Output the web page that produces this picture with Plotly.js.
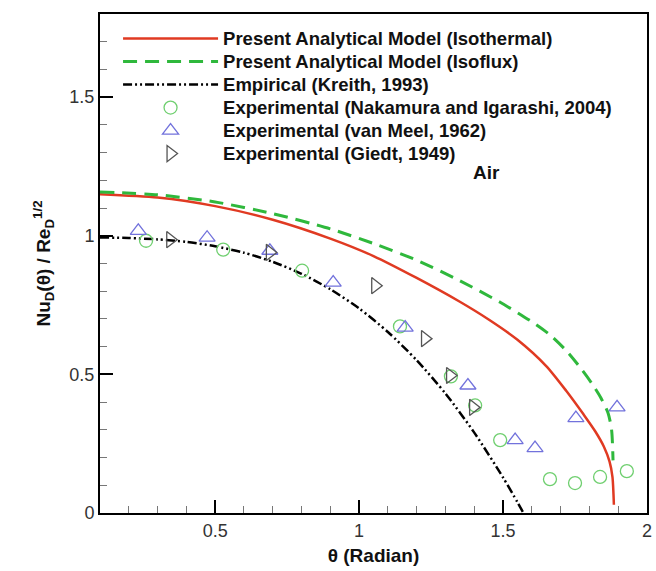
<!DOCTYPE html>
<html>
<head>
<meta charset="utf-8">
<script src="https://cdn.plot.ly/plotly-3.0.1.min.js"></script>
<style>html,body{margin:0;padding:0;background:#fff;}#chart{width:656px;height:571px;}</style>
</head>
<body>
<div id="chart"></div>
<script>
// Present Analytical Model (Isothermal)
const isoThetaX = [0.10, 0.30, 0.50, 0.70, 0.90, 1.05, 1.20, 1.35, 1.45, 1.55, 1.65, 1.72, 1.78, 1.82, 1.85, 1.87, 1.88, 1.885];
const isoThetaY = [1.150, 1.138, 1.107, 1.058, 0.990, 0.927, 0.848, 0.762, 0.698, 0.625, 0.530, 0.440, 0.355, 0.295, 0.240, 0.185, 0.130, 0.030];
// Present Analytical Model (Isoflux)
const isoFluxX = [0.10, 0.30, 0.50, 0.70, 0.90, 1.05, 1.20, 1.35, 1.49, 1.60, 1.66, 1.72, 1.77, 1.81, 1.84, 1.865, 1.877, 1.882];
const isoFluxY = [1.158, 1.148, 1.122, 1.080, 1.025, 0.972, 0.912, 0.838, 0.760, 0.690, 0.645, 0.585, 0.522, 0.465, 0.415, 0.360, 0.300, 0.190];
// Empirical (Kreith, 1993)
const kreithX = [0.10, 0.20, 0.30, 0.40, 0.50, 0.60, 0.70, 0.80, 0.90, 1.00, 1.10, 1.20, 1.30, 1.40, 1.50, 1.55, 1.571];
const kreithY = [0.994, 0.992, 0.987, 0.978, 0.962, 0.939, 0.906, 0.863, 0.807, 0.738, 0.653, 0.551, 0.431, 0.290, 0.128, 0.039, 0.000];
// Experimental (Nakamura and Igarashi, 2004)
const nakamuraX = [0.26, 0.528, 0.802, 1.142, 1.319, 1.403, 1.490, 1.663, 1.750, 1.837, 1.930];
const nakamuraY = [0.982, 0.950, 0.874, 0.673, 0.493, 0.388, 0.263, 0.122, 0.108, 0.130, 0.151];
// Experimental (van Meel, 1962)
const vanMeelX = [0.233, 0.472, 0.690, 0.910, 1.160, 1.378, 1.542, 1.611, 1.753, 1.896];
const vanMeelY = [1.018, 0.993, 0.946, 0.831, 0.669, 0.460, 0.263, 0.234, 0.342, 0.381];
// Experimental (Giedt, 1949)
const giedtX = [0.344, 0.690, 1.056, 1.229, 1.316, 1.396];
const giedtY = [0.986, 0.940, 0.820, 0.629, 0.496, 0.381];

const seriesNames = [
  'Present Analytical Model (Isothermal)',
  'Present Analytical Model (Isoflux)',
  'Empirical (Kreith, 1993)',
  'Experimental (Nakamura and Igarashi, 2004)',
  'Experimental (van Meel, 1962)',
  'Experimental (Giedt, 1949)'
];

const FONT = "Liberation Sans, Arial, Helvetica, sans-serif";
const big = s => '<span style="font-size:18.5px"><b>' + s + '</b></span>';

const traces = [
  {x: isoThetaX, y: isoThetaY, mode: 'lines', name: big(seriesNames[0]),
   line: {color: '#e03a22', width: 2.5, shape: 'spline', smoothing: 0.7}},
  {x: isoFluxX, y: isoFluxY, mode: 'lines', name: big(seriesNames[1]),
   line: {color: '#2fb83c', width: 3, dash: '14px,8px', shape: 'spline', smoothing: 0.7}},
  {x: kreithX, y: kreithY, mode: 'lines', name: big(seriesNames[2]),
   line: {color: '#000000', width: 2.5, dash: '9px,3px,2px,3px,2px,3px', shape: 'spline', smoothing: 0.7}},
  {x: nakamuraX, y: nakamuraY, mode: 'markers', name: big(seriesNames[3]),
   marker: {symbol: 'circle-open', size: 13, color: '#6fcf6f', line: {width: 1.3, color: '#6fcf6f'}}},
  {x: vanMeelX, y: vanMeelY, mode: 'markers', name: big(seriesNames[4]),
   marker: {symbol: 'triangle-up-open', size: 14, color: '#7272dc', line: {width: 1.3, color: '#7272dc'}}},
  {x: giedtX, y: giedtY, mode: 'markers', name: big(seriesNames[5]),
   marker: {symbol: 'triangle-right-open', size: 14, color: '#555555', line: {width: 1.3, color: '#555555'}}}
];

const axisCommon = {
  showline: true, linecolor: '#000', linewidth: 2, mirror: true,
  ticks: 'inside', ticklen: 13, tickwidth: 2, tickcolor: '#000',
  showgrid: false, zeroline: false,
  tickfont: {family: FONT, size: 18, color: '#333'},
  minor: {ticks: 'inside', ticklen: 7, tickwidth: 1, tickcolor: '#777', showgrid: false}
};

const layout = {
  width: 656, height: 571,
  margin: {l: 100, r: 9, t: 14, b: 58},
  paper_bgcolor: '#fff', plot_bgcolor: '#fff',
  showlegend: true,
  legend: {
    x: 0.033, y: 0.984, xanchor: 'left', yanchor: 'top',
    bgcolor: 'rgba(0,0,0,0)', borderwidth: 0,
    itemwidth: 95,
    font: {family: FONT, size: 15.4, color: '#111'}
  },
  xaxis: Object.assign({}, axisCommon, {
    range: [0.1, 2.0], tick0: 0, dtick: 0.5,
    minor: Object.assign({}, axisCommon.minor, {dtick: 0.1}),
    title: {text: '<b>θ (Radian)</b>', font: {family: FONT, size: 19, color: '#111'}, standoff: 9}
  }),
  yaxis: Object.assign({}, axisCommon, {
    range: [0, 1.8], tick0: 0, dtick: 0.5,
    minor: Object.assign({}, axisCommon.minor, {dtick: 0.1}),
    title: {text: '<b>Nu<sub>D</sub>(θ) / Re<sub>D</sub><sup>1/2</sup></b>', font: {family: FONT, size: 19, color: '#111'}, standoff: 14}
  }),
  annotations: [
    {x: 1.441, y: 1.227, xref: 'x', yref: 'y', text: '<b>Air</b>', showarrow: false,
     font: {family: FONT, size: 19, color: '#111'}}
  ]
};

Plotly.newPlot('chart', traces, layout, {displayModeBar: false, staticPlot: true});
</script>
</body>
</html>
